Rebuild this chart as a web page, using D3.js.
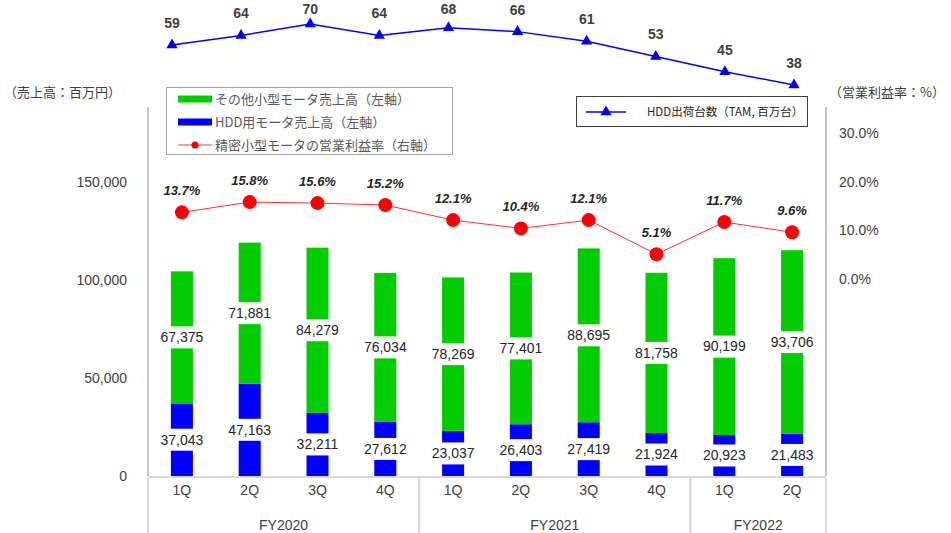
<!DOCTYPE html>
<html>
<head>
<meta charset="utf-8">
<script src="https://cdn.jsdelivr.net/npm/d3@7"></script>
<style>
  body { margin: 0; background: #fff; }
  svg text { font-family: "Liberation Sans", Arial, "Noto Sans CJK JP", sans-serif; fill: #404040; }
  .jp { font-family: "Noto Sans CJK JP", sans-serif; }
</style>
</head>
<body>
<svg id="chart" width="951" height="533"></svg>
<script>
const quarters = ['1Q', '2Q', '3Q', '4Q', '1Q', '2Q', '3Q', '4Q', '1Q', '2Q'];
const fiscalYears = ['FY2020', 'FY2020', 'FY2020', 'FY2020', 'FY2021', 'FY2021', 'FY2021', 'FY2021', 'FY2022', 'FY2022'];
const hddSales = [37043, 47163, 32211, 27612, 23037, 26403, 27419, 21924, 20923, 21483];
const otherSales = [67375, 71881, 84279, 76034, 78269, 77401, 88695, 81758, 90199, 93706];
const marginRate = [13.7, 15.8, 15.6, 15.2, 12.1, 10.4, 12.1, 5.1, 11.7, 9.6];
const hddUnits = [59, 64, 70, 64, 68, 66, 61, 53, 45, 38];

const leftTicks = [0, 50000, 100000, 150000];
const rightTicks = [0, 10, 20, 30];

const svg = d3.select("svg#chart");

const periods = quarters.map((q, i) => i);

// Scales

const x = d3.scaleBand()
    .domain(periods)
    .range([148, 826])
    .paddingInner(0.675)
    .paddingOuter(0.3375);

const y = d3.scaleLinear()
    .domain([0, 150000])
    .range([476, 182]);

const y2 = d3.scaleLinear()
    .domain([0, 30])
    .range([279, 133]);

const xHdd = d3.scalePoint()
    .domain(periods)
    .range([172, 794]);

const yHdd = d3.scaleLinear()
    .domain([38, 70])
    .range([85, 24]);

const cx = i => x(i) + x.bandwidth() / 2;

// Axis lines

svg.append("line")
    .attr("x1", 148).attr("x2", 148)
    .attr("y1", 107).attr("y2", 476)
    .attr("stroke", "#8c8c8c");

svg.append("line")
    .attr("x1", 826).attr("x2", 826)
    .attr("y1", 107).attr("y2", 476)
    .attr("stroke", "#8c8c8c");

// Left axis

svg.append("g")
    .attr("transform", "translate(130,0)")
    .call(d3.axisLeft(y).tickValues(leftTicks).tickSize(0).tickFormat(d3.format(",")))
    .call(g => g.select(".domain").remove())
    .selectAll("text")
    .style("font-size", "14px")
    .style("fill", "#404040");

// Right axis

svg.append("g")
    .attr("transform", "translate(839,0)")
    .call(d3.axisRight(y2).tickValues(rightTicks).tickSize(0).tickPadding(0).tickFormat(d => d.toFixed(1) + "%"))
    .call(g => g.select(".domain").remove())
    .selectAll("text")
    .style("font-size", "14px")
    .style("fill", "#404040");

// Axis titles

svg.append("text")
    .attr("class", "jp")
    .attr("x", 4)
    .attr("y", 97)
    .style("font-size", "13px")
    .text("（売上高：百万円）");

svg.append("text")
    .attr("class", "jp")
    .attr("x", 829)
    .attr("y", 97)
    .style("font-size", "13px")
    .text("（営業利益率：%）");

// Bars

const bars = svg.append("g");

periods.forEach(i => {
    bars.append("rect")
        .attr("x", x(i))
        .attr("width", x.bandwidth())
        .attr("y", y(hddSales[i]))
        .attr("height", y(0) - y(hddSales[i]))
        .attr("fill", "#0000ff");

    bars.append("rect")
        .attr("x", x(i))
        .attr("width", x.bandwidth())
        .attr("y", y(hddSales[i] + otherSales[i]))
        .attr("height", y(hddSales[i]) - y(hddSales[i] + otherSales[i]))
        .attr("fill", "#00cc00");
});

// Bar value labels with white box

function valueLabel(xc, yc, value) {
    const g = svg.append("g");
    const box = g.append("rect").attr("fill", "#fff");
    const t = g.append("text")
        .attr("x", xc)
        .attr("y", yc)
        .attr("text-anchor", "middle")
        .attr("dy", "0.35em")
        .style("font-size", "14px")
        .style("fill", "#262626")
        .text(d3.format(",")(value));
    const bb = t.node().getBBox();
    box.attr("x", Math.min(bb.x - 2, xc - x.bandwidth() / 2 - 1))
        .attr("width", Math.max(bb.width + 4, x.bandwidth() + 2))
        .attr("y", yc - 11)
        .attr("height", 22);
}

periods.forEach(i => {
    valueLabel(cx(i), (y(0) + y(hddSales[i])) / 2, hddSales[i]);
    valueLabel(cx(i), (y(hddSales[i]) + y(hddSales[i] + otherSales[i])) / 2, otherSales[i]);
});

// Operating margin line

const marginLine = d3.line()
    .x(i => cx(i))
    .y(i => y2(marginRate[i]));

svg.append("path")
    .datum(periods)
    .attr("fill", "none")
    .attr("stroke", "#ff3030")
    .attr("stroke-width", 1)
    .attr("d", marginLine);

svg.selectAll("circle.margin")
    .data(periods)
    .join("circle")
    .attr("class", "margin")
    .attr("cx", i => cx(i))
    .attr("cy", i => y2(marginRate[i]))
    .attr("r", 7)
    .attr("fill", "#ff0000");

svg.selectAll("text.margin")
    .data(periods)
    .join("text")
    .attr("class", "margin")
    .attr("x", i => cx(i))
    .attr("y", i => y2(marginRate[i]) - 17)
    .attr("text-anchor", "middle")
    .style("font-size", "13px")
    .style("font-weight", "bold")
    .style("font-style", "italic")
    .style("fill", "#262626")
    .text(i => marginRate[i].toFixed(1) + "%");

// HDD shipments line

const hddLine = d3.line()
    .x(i => xHdd(i))
    .y(i => yHdd(hddUnits[i]));

svg.append("path")
    .datum(periods)
    .attr("fill", "none")
    .attr("stroke", "#0000ff")
    .attr("stroke-width", 1.5)
    .attr("d", hddLine);

const tri = d3.symbol().type(d3.symbolTriangle).size(55);

svg.selectAll("path.hdd")
    .data(periods)
    .join("path")
    .attr("class", "hdd")
    .attr("transform", i => `translate(${xHdd(i)},${yHdd(hddUnits[i])})`)
    .attr("d", tri)
    .attr("fill", "#0000ff");

// labels near the top edge are held inside the picture
svg.selectAll("text.hdd")
    .data(periods)
    .join("text")
    .attr("class", "hdd")
    .attr("x", i => xHdd(i))
    .attr("y", i => Math.max(14, yHdd(hddUnits[i]) - 17))
    .attr("text-anchor", "middle")
    .style("font-size", "14px")
    .style("font-weight", "bold")
    .style("fill", "#404040")
    .text(i => hddUnits[i]);

// X axis: baseline, quarter labels, year groups

svg.append("line")
    .attr("x1", 148).attr("x2", 826)
    .attr("y1", 477).attr("y2", 477)
    .attr("stroke", "#d9d9d9")
    .attr("stroke-width", 2);

svg.append("g")
    .attr("transform", "translate(0,485)")
    .call(d3.axisBottom(x).tickSize(0).tickPadding(0).tickFormat(i => quarters[i]))
    .call(g => g.select(".domain").remove())
    .selectAll("text")
    .attr("dy", "0.71em")
    .style("font-size", "14px")
    .style("fill", "#404040");

const yearNames = Array.from(new Set(fiscalYears));
const [r0, r1] = x.range();
const boundary = i => i === 0 ? r0 : (i === periods.length ? r1 : (cx(i - 1) + cx(i)) / 2);

yearNames.forEach(name => {
    const first = fiscalYears.indexOf(name);
    const last = fiscalYears.lastIndexOf(name);
    const left = boundary(first);
    const right = boundary(last + 1);
    svg.append("line")
        .attr("x1", left).attr("x2", left)
        .attr("y1", 477).attr("y2", 533)
        .attr("stroke", "#d9d9d9")
        .attr("stroke-width", 2);
    svg.append("line")
        .attr("x1", right).attr("x2", right)
        .attr("y1", 477).attr("y2", 533)
        .attr("stroke", "#d9d9d9")
        .attr("stroke-width", 2);
    svg.append("text")
        .attr("x", (left + right) / 2)
        .attr("y", 530)
        .attr("text-anchor", "middle")
        .style("font-size", "14px")
        .text(name);
});

// Legend 1

const legend = svg.append("g");

legend.append("rect")
    .attr("x", 166.5).attr("y", 87.5)
    .attr("width", 286).attr("height", 67)
    .attr("fill", "#fff")
    .attr("stroke", "#a6a6a6");

const legendItems = [
    { label: "その他小型モータ売上高（左軸）", color: "#00cc00", type: "bar" },
    { label: "HDD用モータ売上高（左軸）", color: "#0000ff", type: "bar" },
    { label: "精密小型モータの営業利益率（右軸）", color: "#ff0000", type: "line" }
];

legendItems.forEach((d, i) => {
    const ly = 99 + i * 23;
    if (d.type === "bar") {
        legend.append("rect")
            .attr("x", 178).attr("y", ly - 3.5)
            .attr("width", 34).attr("height", 7)
            .attr("fill", d.color);
    } else {
        legend.append("line")
            .attr("x1", 178).attr("x2", 212)
            .attr("y1", ly).attr("y2", ly)
            .attr("stroke", "#ff3030");
        legend.append("circle")
            .attr("cx", 195).attr("cy", ly)
            .attr("r", 3.5)
            .attr("fill", d.color);
    }
    legend.append("text")
        .attr("class", "jp")
        .attr("x", 215)
        .attr("y", ly)
        .attr("dy", "0.36em")
        .style("font-size", "13px")
        .style("fill", "#595959")
        .text(d.label);
});

// Legend 2

const legend2 = svg.append("g");

legend2.append("rect")
    .attr("x", 576.5).attr("y", 96.5)
    .attr("width", 231).attr("height", 30)
    .attr("fill", "#fff")
    .attr("stroke", "#404040");

legend2.append("line")
    .attr("x1", 586).attr("x2", 626)
    .attr("y1", 112).attr("y2", 112)
    .attr("stroke", "#0000ff")
    .attr("stroke-width", 1.5);

legend2.append("path")
    .attr("transform", "translate(606,112)")
    .attr("d", tri)
    .attr("fill", "#0000ff");

legend2.append("text")
    .attr("class", "jp")
    .attr("x", 647)
    .attr("y", 112)
    .attr("dy", "0.36em")
    .style("font-size", "11.5px")
    .style("fill", "#262626")
    .text("HDD出荷台数（TAM, 百万台）");
</script>
</body>
</html>
